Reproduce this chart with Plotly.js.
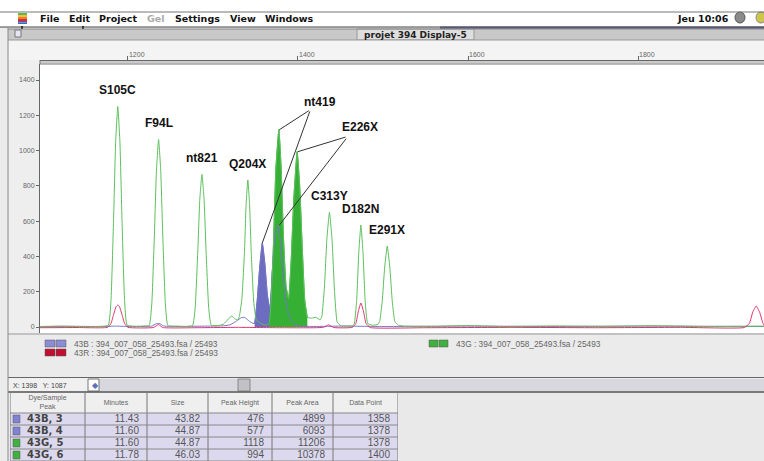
<!DOCTYPE html>
<html><head><meta charset="utf-8">
<script src="https://cdn.plot.ly/plotly-3.0.1.min.js"></script>
<style>html,body{margin:0;padding:0;overflow:hidden;background:#ebebeb;}#chart{width:764px;height:466px;}</style>
</head><body><div id="chart"></div>
<script>
// ---------- DATA ----------
// green dye (43G) trace: data point vs. fluorescence
const greenX = [1096,1120,1150,1170,1177,1180,1183,1185.5,1188,1190.5,1193,1196,1199,1210,1220,1225,1228,1231,1233.5,1236,1238.5,1241,1244,1247,1258,1268,1276,1279,1282,1284.5,1287,1289.5,1292,1295,1298,1305,1312,1318,1322,1326,1329,1331,1334,1337,1339,1341,1343,1345,1348,1351,1356,1362,1366,1368,1371,1374,1377.5,1380,1383,1386,1389,1392,1395,1399,1402,1405,1408,1411,1416,1421,1426,1428,1431,1434,1437,1440,1443,1446,1450,1458,1464,1466,1469,1471.5,1474,1476.5,1479,1482,1488,1494,1496,1499,1502,1505,1508,1511,1514,1518,1525,1560,1600,1640,1700,1760,1820,1880,1948];
const greenY = [3,5,2,4,10,150,600,1050,1250,1050,600,150,10,4,6,8,130,510,890,1063,890,510,130,8,5,3,8,105,415,725,865,725,415,105,10,8,15,45,62,45,40,60,160,420,700,833,700,420,140,40,20,10,20,120,450,900,1118,920,500,230,160,380,720,994,800,450,150,55,50,55,40,60,220,500,650,500,200,30,8,5,8,15,150,420,578,420,150,20,10,15,30,140,340,459,340,140,30,10,5,4,8,3,6,4,7,3,5];
// blue dye (43B) trace
const blueX = [1096,1130,1170,1185,1200,1228,1233,1237,1242,1260,1290,1310,1320,1328,1333,1337,1341,1345,1349,1352,1355,1358,1361,1364,1367,1370,1373,1376,1379,1382,1385,1388,1392,1396,1402,1420,1450,1500,1600,1700,1800,1948];
const blueY = [2,4,3,5,3,5,18,20,6,3,5,6,12,35,52,55,40,25,20,150,340,476,360,180,100,330,520,577,500,320,170,90,40,15,5,3,5,3,5,3,5,3];
// red dye (43R) trace
const redX = [1096,1140,1176,1180,1183,1186,1188,1190,1193,1196,1200,1230,1236,1241,1280,1330,1380,1430,1436,1442,1464,1468,1471,1474,1477,1480,1485,1550,1650,1750,1850,1925,1931,1935,1939,1943,1947,1949];
const redY = [-4,-3,-2,20,70,115,124,115,70,20,-2,-3,14,-3,-4,-2,-4,-2,12,-3,-2,20,90,136,90,20,-3,-4,-2,-4,-2,-3,20,85,119,85,20,5];
// selected (filled) peak ranges
const greenFillRange = [1366,1411];
const blueFillRange = [1349,1402];
// peak labels
const peakLabels = ['S105C','F94L','nt821','Q204X','C313Y','D182N','E291X'];
const peakLabelX = [1188,1236,1287,1341,1437,1474,1505];
// axes ticks
const yTicks = [0,200,400,600,800,1000,1200,1400];
const rulerTicks = [1200,1400,1600,1800];
// legend
const legendNames = ['43B : 394_007_058_25493.fsa / 25493','43R : 394_007_058_25493.fsa / 25493','43G : 394_007_058_25493.fsa / 25493'];
// peak table
const tableHeader = ['Dye/Sample<br>Peak','Minutes','Size','Peak Height','Peak Area','Data Point'];
const dyeSample = ['43B, 3','43B, 4','43G, 5','43G, 6'];
const minutes = ['11.43','11.60','11.60','11.78'];
const sizes = ['43.82','44.87','44.87','46.03'];
const peakHeight = [476,577,1118,994];
const peakArea = [4899,6093,11206,10378];
const dataPoint = [1358,1378,1378,1400];
const menuItems = ['File','Edit','Project','Gel','Settings','View','Windows'];

// ---------- LAYOUT HELPERS ----------
const W=764,H=466;
const PX=x=>x/W, PY=y=>1-y/H;
const SANS='Liberation Sans, Arial, sans-serif', DJ='DejaVu Sans, sans-serif';
const GREEN='#5cc05c', GFILL='#35b035', BLUE='#7676c6', BFILL='#6c6cc0', RED='#e0306a';
function rect(x0,y0,x1,y1,fill,line,lw,layer){return {type:'rect',xref:'paper',yref:'paper',x0:PX(x0),x1:PX(x1),y0:PY(y1),y1:PY(y0),fillcolor:fill,line:{color:line||fill,width:lw||0},layer:layer||'below'};}
function hline(x0,x1,y,color,w){return {type:'line',xref:'paper',yref:'paper',x0:PX(x0),x1:PX(x1),y0:PY(y),y1:PY(y),line:{color:color,width:w||1},layer:'above'};}
function vline(x,y0,y1,color,w){return {type:'line',xref:'paper',yref:'paper',x0:PX(x),x1:PX(x),y0:PY(y0),y1:PY(y1),line:{color:color,width:w||1},layer:'above'};}
function txt(x,y,text,size,color,family,xa){return {xref:'paper',yref:'paper',x:PX(x),y:PY(y),text:text,showarrow:false,font:{size:size,color:color,family:family||SANS},xanchor:xa||'left',yanchor:'middle'};}

function sub(xs,ys,r){const a=[],b=[];xs.forEach((x,i)=>{if(x>=r[0]&&x<=r[1]){a.push(x);b.push(ys[i]);}});return [a,b];}
const gF=sub(greenX,greenY,greenFillRange), bF=sub(blueX,blueY,blueFillRange);

const traces=[
 {x:bF[0],y:bF[1],type:'scatter',mode:'lines',fill:'tozeroy',fillcolor:BFILL,line:{color:BFILL,width:1,shape:'spline',smoothing:0.4},hoverinfo:'skip'},
 {x:gF[0],y:gF[1],type:'scatter',mode:'lines',fill:'tozeroy',fillcolor:GFILL,line:{color:GFILL,width:1,shape:'spline',smoothing:0.4},hoverinfo:'skip'},
 {x:blueX,y:blueY,type:'scatter',mode:'lines',line:{color:BLUE,width:1,shape:'spline',smoothing:0.4}},
 {x:greenX,y:greenY,type:'scatter',mode:'lines',line:{color:GREEN,width:1,shape:'spline',smoothing:0.4}},
 {x:redX,y:redY,type:'scatter',mode:'lines',line:{color:RED,width:1,shape:'spline',smoothing:0.4}}
];

// ---------- TABLE (own subplot, units = pixels) ----------
const colEdges=[0,75,137,198,262,323,388];
const headH=20,rowH=12;
const shapes=[];
const tX=[],tY=[],tT=[],tP=[],tS=[],tC=[],tF=[];
shapes.push({type:'rect',xref:'x2',yref:'y2',x0:0,x1:388,y0:0,y1:headH,fillcolor:'#efefef',line:{width:0},layer:'below'});
tableHeader.forEach((h,i)=>{tX.push((colEdges[i]+colEdges[i+1])/2);tY.push(headH/2);tT.push(h);tP.push('middle center');tS.push(7);tC.push('#666');tF.push(SANS);});
const cols=[dyeSample,minutes,sizes,peakHeight,peakArea,dataPoint];
dyeSample.forEach((d,r)=>{
  const y0=headH+r*rowH, yc=y0+rowH/2;
  shapes.push({type:'rect',xref:'x2',yref:'y2',x0:0,x1:388,y0:y0,y1:y0+rowH,fillcolor:'#dcd9ef',line:{width:0},layer:'below'});
  const dc = d.indexOf('G')>=0 ? '#40b040' : '#8282d2';
  shapes.push({type:'rect',xref:'x2',yref:'y2',x0:3,x1:10,y0:yc-4,y1:yc+4,fillcolor:dc,line:{color:'#555',width:0.5},layer:'above'});
  cols.forEach((c,ci)=>{
    if(ci===0){tX.push(17);tP.push('middle right');tS.push(10);tC.push('#444');tF.push(DJ);tT.push('<b>'+c[r]+'</b>');}
    else {tX.push(colEdges[ci+1]-8);tP.push('middle left');tS.push(10);tC.push('#555');tF.push(SANS);tT.push(String(c[r]));}
    tY.push(yc);
  });
});
colEdges.forEach(x=>shapes.push({type:'line',xref:'x2',yref:'y2',x0:x,x1:x,y0:0,y1:headH+dyeSample.length*rowH,line:{color:'#777',width:1},layer:'above'}));
for(let r=0;r<=dyeSample.length;r++){const y=headH+r*rowH;shapes.push({type:'line',xref:'x2',yref:'y2',x0:0,x1:388,y0:y,y1:y,line:{color:'#888',width:1},layer:'above'});}
traces.push({x:tX,y:tY,text:tT,type:'scatter',mode:'text',textposition:tP,textfont:{size:tS,color:tC,family:tF},xaxis:'x2',yaxis:'y2',hoverinfo:'skip'});

// ---------- WINDOW CHROME ----------
shapes.push(
 rect(0,0,764,27,'#ffffff'),
 rect(8,29,764,40,'#c9c9c9'),
 rect(357,29,474,40,'#dedede','#999',1),
 rect(15,30,21,37,'#e6e6f2','#777',1),
 rect(8,40,764,60,'#f4f4f4'),
 rect(8,60,40,334,'#eeeeee'),
 rect(8,334,764,377,'#ebebeb'),
 rect(8,378,88,391,'#f0f0f0'),
 rect(99,379,764,391,'#d7d7dd'),
 rect(238,379,250,391,'#c2c2c6','#888',1),
 rect(88,379,99,391,'#ffffff','#777',1),
 rect(8,393,764,466,'#e9e9e9'),
 rect(440,26.5,764,29,'#6a6f98'),
 rect(21,26,23,29,'#222'),rect(82,26,84,29,'#222'),
 hline(0,764,12,'#777',1),
 hline(0,764,27,'#444',1),
 hline(8,764,29,'#888',1),
 hline(8,764,40,'#999',1),
 hline(40,764,62,'#aaa',1),
 hline(40,764,64,'#777',1),
 hline(8,764,334,'#999',1),
 hline(8,764,377.5,'#666',1),
 hline(8,764,392,'#555',1.5),
 vline(8,28,466,'#888',1),
 vline(40,60,64,'#777',1),
 // legend colour keys
 rect(45,340,55,347,'#8c8cd4','#555',0.5,'above'),rect(56,340,66,347,'#8c8cd4','#555',0.5,'above'),
 rect(45,349,55,356,'#c01030','#555',0.5,'above'),rect(56,349,66,356,'#c01030','#555',0.5,'above'),
 rect(429,340,438,347,'#40b040','#555',0.5,'above'),rect(439,340,448,347,'#40b040','#555',0.5,'above'),
 // apple logo stripes + right icons
 rect(18,13,27,15,'#5cb85c'),rect(18,15,27,17,'#f0c030'),rect(18,17,27,19,'#f08030'),rect(18,19,27,21,'#d03030'),rect(18,21,27,22.5,'#9040a0'),rect(18,22.5,27,24,'#3070c0'),
 {type:'circle',xref:'paper',yref:'paper',x0:PX(735),x1:PX(745),y0:PY(23),y1:PY(12),fillcolor:'#8a8a8a',line:{color:'#555',width:1},layer:'below'},
 {type:'circle',xref:'paper',yref:'paper',x0:PX(756),x1:PX(766),y0:PY(23),y1:PY(12),fillcolor:'#cdc64a',line:{color:'#888',width:1},layer:'below'}
);

const ann=[];
const menuPos=[38,67,97,145,173,228,263];
menuItems.forEach((m,i)=>ann.push(txt(menuPos[i],18.5,'<b>'+m+'</b>',9.5,m==='Gel'?'#aaa':'#111',DJ)));
ann.push(txt(675,18,'<b>Jeu 10:06</b>',9.5,'#111',DJ));
ann.push(txt(415,35,'<b>projet 394 Display-5</b>',9,'#222',DJ,'center'));
ann.push(txt(72,343.5,legendNames[0],8.3,'#666'));
ann.push(txt(72,352.5,legendNames[1],8.3,'#666'));
ann.push(txt(454,343.5,legendNames[2],8.3,'#666'));
ann.push(txt(11,385,'X: 1398   Y: 1087',7,'#444'));
ann.push(txt(90,385,'◆',8,'#6070c0'));

// peak labels from green trace
peakLabels.forEach((l,i)=>{
  let bi=0;greenX.forEach((x,j)=>{if(Math.abs(x-peakLabelX[i])<Math.abs(greenX[bi]-peakLabelX[i]))bi=j;});
  ann.push({x:greenX[bi],y:greenY[bi],text:'<b>'+l+'</b>',showarrow:false,yanchor:'bottom',yshift:7,font:{size:12,color:'#111',family:SANS}});
});
ann.push(txt(320,102,'<b>nt419</b>',12,'#111',SANS,'center'));
ann.push(txt(360,127,'<b>E226X</b>',12,'#111',SANS,'center'));
// leader lines: [peak index in table, tail offset px]
const leaders=[[2,31,-20],[0,48,-133],[3,49,-15],[1,68,-88]];
leaders.forEach(L=>ann.push({x:dataPoint[L[0]],y:peakHeight[L[0]],text:'',showarrow:true,arrowhead:0,arrowwidth:1,arrowcolor:'#333',ax:L[1],ay:L[2],standoff:0}));

const layout={
 width:W,height:H,margin:{l:0,r:0,t:0,b:0},
 paper_bgcolor:'#ebebeb',plot_bgcolor:'#ffffff',showlegend:false,
 xaxis:{domain:[PX(40),1],range:[1096.5,1948.2],side:'top',anchor:'free',position:PY(60),showline:true,linecolor:'#666',linewidth:1,
   ticks:'outside',ticklen:4,tickcolor:'#666',tickvals:rulerTicks,ticklabelposition:'outside right',
   tickfont:{size:7,color:'#666',family:SANS},showgrid:false,zeroline:false,fixedrange:true},
 yaxis:{domain:[PY(333),PY(64)],range:[-34,1490.7],showline:true,linecolor:'#666',linewidth:1,ticks:'outside',ticklen:3,tickcolor:'#666',
   tickvals:yTicks,tickfont:{size:7,color:'#666',family:SANS},showgrid:false,zeroline:false,fixedrange:true},
 xaxis2:{domain:[PX(10),PX(398)],range:[0,388],visible:false,fixedrange:true},
 yaxis2:{domain:[0,PY(393)],range:[73,0],visible:false,fixedrange:true},
 shapes:shapes,annotations:ann
};
Plotly.newPlot('chart',traces,layout,{displayModeBar:false,staticPlot:true});
</script></body></html>
